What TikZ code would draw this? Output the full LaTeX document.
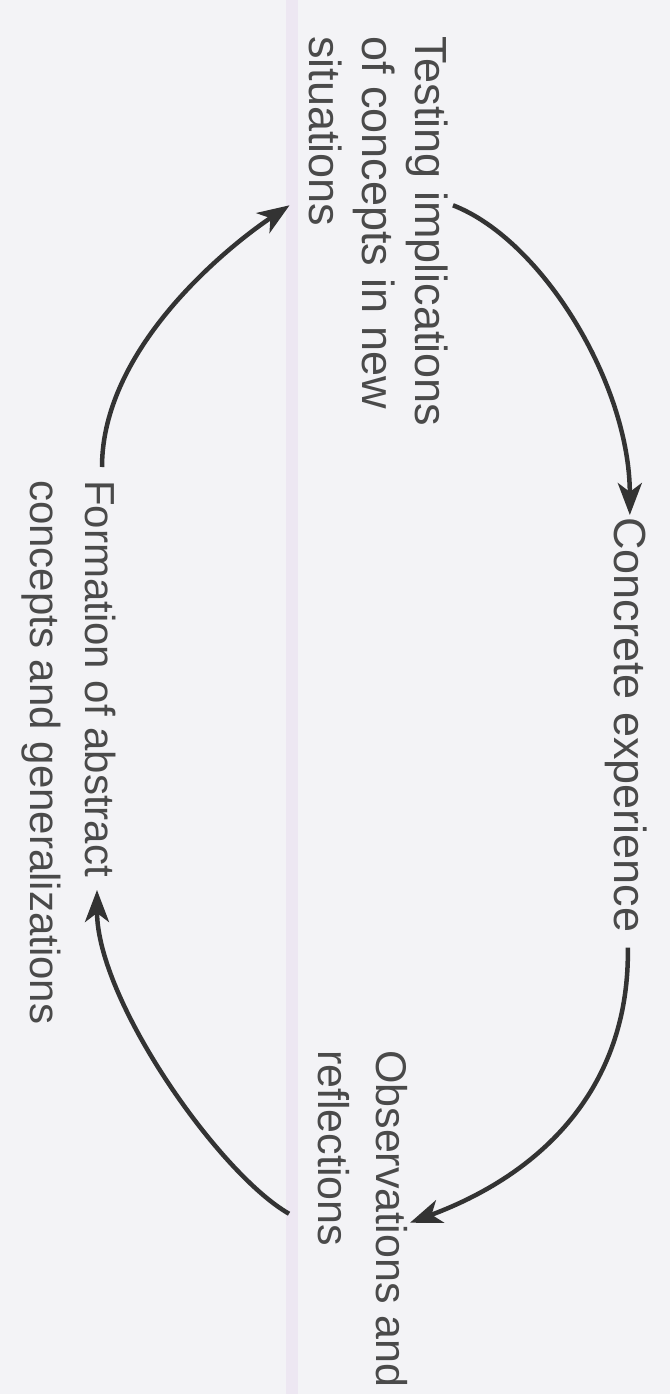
\documentclass[tikz,border=0pt]{standalone}
\usepackage{fontspec}
\setmainfont{Liberation Sans}
\usetikzlibrary{arrows.meta}
\definecolor{bg}{HTML}{F3F3F6}
\definecolor{stripe}{HTML}{EDE7F2}
\definecolor{txt}{HTML}{4A4A4A}
\definecolor{arr}{HTML}{333333}
\begin{document}
\begin{tikzpicture}[x=1pt,y=-1pt,
  lbl/.style={rotate=-90, anchor=north west, inner sep=0pt, align=left, text=txt},
  cyc/.style={draw=arr, line width=4.5pt, -{Stealth[length=32pt,width=24pt,inset=9pt]}}]
\fill[bg] (0,0) rectangle (670,1394);
\fill[stripe] (286,0) rectangle (298,1394);
\useasboundingbox (0,0) rectangle (670,1394);
\node[lbl, font=\fontsize{45}{53}\selectfont] (test) at (448,36) {Testing implications\\of concepts in new\\situations};
\node[lbl, font=\fontsize{45}{53}\selectfont] (conc) at (647,517) {Concrete experience};
\node[lbl, font=\fontsize{43}{58}\selectfont] (obs) at (408,1050) {Observations and\\reflections};
\node[lbl, font=\fontsize{42}{55}\selectfont] (form) at (116,480) {Formation of abstract\\concepts and generalizations};
% arrows
\draw[cyc] ([shift={(5,-26)}]test.north) .. controls +(90,35) and +(0,-130) .. ([shift={(4,-2)}]conc.west);
\draw[cyc] ([shift={(2,15)}]conc.east) .. controls +(2,133) and +(140,-52) .. ([shift={(2,4)}]obs.north);
\draw[cyc] ([shift={(-29,-5)}]obs.south) .. controls +(-70,-40) and +(0,110) .. ([shift={(-19,410)}]form.north west);
\draw[cyc] ([shift={(-14,-13)}]form.north west) .. controls +(0,-120) and +(-60,40) .. ([shift={(-19,-26)}]test.south);
\end{tikzpicture}
\end{document}
